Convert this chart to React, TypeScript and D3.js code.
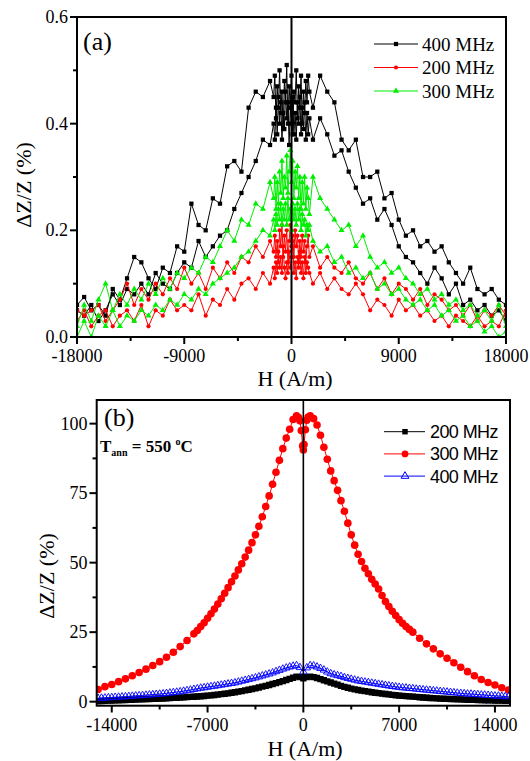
import React from 'react';
import * as d3 from 'd3';

// ---------- Panel (a) data ----------
const hTop = [
  -18000, -17400, -16800, -16200, -15600, -15000, -14400, -13800, -13200, -12600, -12000, -11400, -10800, -10200,
  -9600, -9000, -8400, -7800, -7200, -6600, -6000, -5400, -4800, -4200, -3600, -3000, -2400, -1800,
  -1500, -1400, -1300, -1200, -1100, -1000, -900, -800, -700, -600, -500, -400, -300, -200, -100, 0,
  100, 200, 300, 400, 500, 600, 700, 800, 900, 1000, 1100, 1200, 1300, 1400, 1500,
  1800, 2400, 3000, 3600, 4200, 4800, 5400, 6000, 6600, 7200, 7800, 8400, 9000, 9600, 10200, 10800, 11400, 12000,
  12600, 13200, 13800, 14400, 15000, 15600, 16200, 16800, 17400, 18000,
];

const mhz400SweepA = [
  0.06, 0.075, 0.05, 0.06, 0.04, 0.09, 0.07, 0.11, 0.15, 0.14, 0.11, 0.09, 0.13, 0.12,
  0.17, 0.16, 0.25, 0.21, 0.2, 0.26, 0.25, 0.32, 0.33, 0.31, 0.43, 0.46, 0.45, 0.48,
  0.45, 0.49, 0.41, 0.47, 0.43, 0.5, 0.42, 0.46, 0.39, 0.48, 0.44, 0.51, 0.4, 0.47, 0.43, 0.49,
  0.38, 0.46, 0.44, 0.5, 0.41, 0.47, 0.43, 0.49, 0.4, 0.46, 0.42, 0.48, 0.44, 0.49, 0.46,
  0.43, 0.49, 0.46, 0.44, 0.37, 0.35, 0.37, 0.3, 0.3, 0.31, 0.26, 0.27, 0.22, 0.19, 0.2, 0.17, 0.18, 0.16,
  0.17, 0.14, 0.12, 0.1, 0.13, 0.09, 0.08, 0.09, 0.07, 0.06,
];
const mhz400SweepB = [
  0.05, 0.04, 0.06, 0.03, 0.05, 0.08, 0.06, 0.09, 0.08, 0.1, 0.08, 0.12, 0.1, 0.09,
  0.12, 0.14, 0.13, 0.18, 0.15, 0.17, 0.19, 0.2, 0.24, 0.27, 0.3, 0.33, 0.37, 0.36,
  0.4, 0.37, 0.43, 0.38, 0.45, 0.4, 0.44, 0.37, 0.42, 0.39, 0.46, 0.41, 0.44, 0.36, 0.43, 0.4,
  0.45, 0.38, 0.42, 0.37, 0.44, 0.4, 0.45, 0.38, 0.43, 0.39, 0.44, 0.37, 0.42, 0.38, 0.41,
  0.37, 0.41, 0.38, 0.34, 0.35, 0.31, 0.28, 0.25, 0.26, 0.22, 0.24, 0.21, 0.17, 0.15, 0.14, 0.12, 0.1, 0.13,
  0.11, 0.08, 0.1, 0.06, 0.07, 0.05, 0.06, 0.04, 0.05, 0.03,
];
const mhz200SweepA = [
  0.05, 0.04, 0.05, 0.06, 0.03, 0.05, 0.07, 0.1, 0.06, 0.09, 0.07, 0.1, 0.08, 0.11,
  0.09, 0.13, 0.1, 0.12, 0.09, 0.13, 0.11, 0.14, 0.12, 0.15, 0.14, 0.17, 0.15, 0.18,
  0.16, 0.19, 0.15, 0.18, 0.14, 0.2, 0.17, 0.21, 0.15, 0.19, 0.16, 0.2, 0.14, 0.18, 0.21, 0.17,
  0.19, 0.15, 0.2, 0.17, 0.19, 0.14, 0.18, 0.15, 0.19, 0.16, 0.18, 0.14, 0.17, 0.19, 0.15,
  0.17, 0.13, 0.15, 0.13, 0.12, 0.14, 0.11, 0.1, 0.12, 0.09, 0.11, 0.08, 0.1, 0.09, 0.07, 0.09, 0.06, 0.08,
  0.07, 0.05, 0.06, 0.04, 0.06, 0.03, 0.05, 0.04, 0.06, 0.04,
];
const mhz200SweepB = [
  0.03, 0.05, 0.02, 0.04, 0.05, 0.02, 0.04, 0.05, 0.03, 0.06, 0.02, 0.05, 0.04, 0.07,
  0.05, 0.06, 0.05, 0.08, 0.04, 0.07, 0.06, 0.09, 0.07, 0.1, 0.11, 0.09, 0.12, 0.1,
  0.13, 0.11, 0.14, 0.12, 0.16, 0.13, 0.15, 0.12, 0.17, 0.13, 0.11, 0.14, 0.12, 0.16, 0.13, 0.15,
  0.18, 0.12, 0.14, 0.11, 0.15, 0.13, 0.16, 0.12, 0.14, 0.11, 0.15, 0.12, 0.14, 0.13, 0.12,
  0.1, 0.12, 0.09, 0.11, 0.09, 0.08, 0.1, 0.08, 0.05, 0.07, 0.06, 0.04, 0.07, 0.05, 0.06, 0.04, 0.05, 0.03,
  0.04, 0.02, 0.04, 0.03, 0.02, 0.04, 0.02, 0.03, 0.02, 0.05,
];
const mhz300SweepA = [
  0.02, 0.06, 0.03, 0.07, 0.1, 0.05, 0.08, 0.06, 0.09, 0.07, 0.1, 0.08, 0.11, 0.09,
  0.12, 0.11, 0.13, 0.12, 0.15, 0.14, 0.17, 0.2, 0.18, 0.22, 0.21, 0.25, 0.24, 0.29,
  0.26, 0.3, 0.24, 0.29, 0.25, 0.31, 0.27, 0.33, 0.26, 0.3, 0.28, 0.34, 0.27, 0.31, 0.35, 0.29,
  0.33, 0.26, 0.31, 0.28, 0.32, 0.26, 0.3, 0.24, 0.29, 0.25, 0.3, 0.24, 0.28, 0.26, 0.23,
  0.3, 0.26, 0.24, 0.22, 0.2, 0.21, 0.17, 0.19, 0.15, 0.13, 0.14, 0.12, 0.13, 0.11, 0.1, 0.08, 0.09, 0.07,
  0.08, 0.06, 0.07, 0.05, 0.06, 0.04, 0.05, 0.03, 0.06, 0.02,
];
const mhz300SweepB = [
  0.0, 0.03, 0.0, 0.04, 0.02, 0.05, 0.02, 0.04, 0.03, 0.05, 0.04, 0.06, 0.05, 0.07,
  0.06, 0.08, 0.07, 0.09, 0.08, 0.1, 0.11, 0.12, 0.13, 0.15, 0.16, 0.18, 0.2, 0.19,
  0.22, 0.2, 0.23, 0.21, 0.24, 0.22, 0.25, 0.21, 0.24, 0.22, 0.25, 0.21, 0.26, 0.22, 0.24, 0.2,
  0.25, 0.22, 0.24, 0.21, 0.25, 0.22, 0.24, 0.2, 0.23, 0.21, 0.22, 0.19, 0.21, 0.2, 0.21,
  0.18, 0.16, 0.17, 0.14, 0.15, 0.12, 0.13, 0.11, 0.12, 0.09, 0.1, 0.08, 0.09, 0.07, 0.06, 0.07, 0.05, 0.06,
  0.04, 0.05, 0.03, 0.04, 0.02, 0.03, 0.01, 0.02, 0.0, 0.01,
];

const topXTicks = [-18000, -9000, 0, 9000, 18000];
const topXMinor = [-13500, -4500, 4500, 13500];
const topYTicks = [0, 0.2, 0.4, 0.6];
const topYMinor = [0.1, 0.3, 0.5];
const topLegend = ['400 MHz', '200 MHz', '300 MHz'];

// ---------- Panel (b) data ----------
const mhz300Bottom: [number, number][] = [
  [-15000, 4.4], [-14500, 5.4], [-14000, 6.2], [-13500, 7.2], [-13000, 8.2], [-12500, 9.3], [-12000, 10.5],
  [-11500, 11.7], [-11000, 13.0], [-10500, 14.4], [-10000, 16.0], [-9500, 17.8], [-9000, 19.8], [-8500, 22.0],
  [-8000, 24.4], [-7750, 25.6], [-7500, 27.0], [-7250, 28.4], [-7000, 30.0], [-6750, 31.6], [-6500, 33.3],
  [-6250, 35.1], [-6000, 37.0], [-5750, 39.0], [-5500, 41.0], [-5250, 43.1], [-5000, 45.2], [-4750, 47.4],
  [-4500, 49.6], [-4250, 52.0], [-4000, 54.5], [-3750, 57.2], [-3500, 60.0], [-3250, 63.1], [-3000, 66.5],
  [-2750, 70.2], [-2500, 74.0], [-2250, 78.2], [-2000, 82.5], [-1750, 86.8], [-1500, 91.0], [-1250, 94.8],
  [-1000, 98.0], [-750, 101.5], [-500, 102.8], [-350, 102.2], [-250, 101.0], [-150, 97.5], [-50, 92.0],
  [0, 90.5], [50, 92.5], [150, 97.8], [250, 101.2], [350, 102.4], [500, 102.8], [750, 101.8], [1000, 99.5],
  [1250, 95.8], [1500, 91.5], [1750, 87.2], [2000, 83.0], [2250, 79.5], [2500, 76.0], [2750, 72.3],
  [3000, 68.5], [3250, 64.2], [3500, 60.0], [3750, 56.3], [4000, 53.0], [4250, 50.4], [4500, 48.0],
  [4750, 46.0], [5000, 44.0], [5250, 42.3], [5500, 40.5], [5750, 38.2], [6000, 36.0], [6250, 34.2],
  [6500, 32.5], [6750, 31.0], [7000, 29.5], [7250, 28.2], [7500, 27.0], [7750, 26.0], [8000, 25.0],
  [8500, 22.8], [9000, 20.8], [9500, 19.0], [10000, 17.2], [10500, 15.6], [11000, 14.0], [11500, 12.4],
  [12000, 10.8], [12500, 9.3], [13000, 8.0], [13500, 6.9], [14000, 6.0], [14500, 5.0], [15000, 4.2],
];

const mhz200Bottom: [number, number][] = [
  [-15000, 0.2], [-14750, 0.25], [-14500, 0.3], [-14250, 0.35], [-14000, 0.4], [-13750, 0.45], [-13500, 0.5],
  [-13250, 0.55], [-13000, 0.6], [-12750, 0.65], [-12500, 0.7], [-12250, 0.75], [-12000, 0.8], [-11750, 0.85],
  [-11500, 0.9], [-11250, 0.95], [-11000, 1.0], [-10750, 1.05], [-10500, 1.1], [-10250, 1.15], [-10000, 1.2],
  [-9750, 1.27], [-9500, 1.34], [-9250, 1.41], [-9000, 1.48], [-8750, 1.55], [-8500, 1.62], [-8250, 1.7],
  [-8000, 1.78], [-7750, 1.86], [-7500, 1.95], [-7250, 2.05], [-7000, 2.15], [-6750, 2.25], [-6500, 2.4],
  [-6250, 2.55], [-6000, 2.7], [-5750, 2.85], [-5500, 3.0], [-5250, 3.2], [-5000, 3.4], [-4750, 3.6],
  [-4500, 3.8], [-4250, 4.05], [-4000, 4.3], [-3750, 4.55], [-3500, 4.8], [-3250, 5.1], [-3000, 5.4],
  [-2750, 5.7], [-2500, 6.0], [-2250, 6.35], [-2000, 6.7], [-1750, 7.05], [-1500, 7.4], [-1250, 7.8],
  [-1000, 8.2], [-750, 8.6], [-500, 9.0], [-250, 8.8], [0, 8.4], [250, 8.8], [500, 9.0], [750, 8.8],
  [1000, 8.5], [1250, 8.1], [1500, 7.7], [1750, 7.3], [2000, 6.9], [2250, 6.5], [2500, 6.1], [2750, 5.7],
  [3000, 5.35], [3250, 5.0], [3500, 4.7], [3750, 4.45], [4000, 4.2], [4250, 4.0], [4500, 3.8], [4750, 3.6],
  [5000, 3.4], [5250, 3.2], [5500, 3.05], [5750, 2.9], [6000, 2.75], [6250, 2.6], [6500, 2.45], [6750, 2.3],
  [7000, 2.2], [7250, 2.1], [7500, 2.0], [7750, 1.9], [8000, 1.8], [8250, 1.7], [8500, 1.6], [8750, 1.5],
  [9000, 1.4], [9250, 1.33], [9500, 1.26], [9750, 1.19], [10000, 1.12], [10250, 1.05], [10500, 1.0],
  [10750, 0.95], [11000, 0.9], [11250, 0.85], [11500, 0.8], [11750, 0.75], [12000, 0.7], [12250, 0.66],
  [12500, 0.62], [12750, 0.58], [13000, 0.54], [13250, 0.5], [13500, 0.47], [13750, 0.44], [14000, 0.41],
  [14250, 0.38], [14500, 0.35], [14750, 0.32], [15000, 0.3],
];

const mhz400Bottom: [number, number][] = [
  [-15000, 1.2], [-14750, 1.3], [-14500, 1.35], [-14250, 1.45], [-14000, 1.5], [-13750, 1.6], [-13500, 1.65],
  [-13250, 1.75], [-13000, 1.8], [-12750, 1.9], [-12500, 2.0], [-12250, 2.1], [-12000, 2.15], [-11750, 2.25],
  [-11500, 2.35], [-11250, 2.45], [-11000, 2.55], [-10750, 2.65], [-10500, 2.75], [-10250, 2.85], [-10000, 3.0],
  [-9750, 3.15], [-9500, 3.3], [-9250, 3.45], [-9000, 3.6], [-8750, 3.8], [-8500, 4.0], [-8250, 4.2],
  [-8000, 4.45], [-7750, 4.65], [-7500, 4.9], [-7250, 5.05], [-7000, 5.25], [-6750, 5.45], [-6500, 5.6],
  [-6250, 5.8], [-6000, 6.0], [-5750, 6.2], [-5500, 6.4], [-5250, 6.6], [-5000, 6.8], [-4750, 7.1],
  [-4500, 7.4], [-4250, 7.7], [-4000, 8.0], [-3750, 8.3], [-3500, 8.6], [-3250, 8.95], [-3000, 9.3],
  [-2750, 9.65], [-2500, 10.0], [-2250, 10.4], [-2000, 10.85], [-1750, 11.3], [-1500, 11.75], [-1250, 12.15],
  [-1000, 12.5], [-750, 12.8], [-500, 13.0], [-250, 12.3], [0, 10.8], [250, 12.2], [500, 13.0], [750, 12.9],
  [1000, 12.5], [1250, 12.0], [1500, 11.4], [1750, 10.7], [2000, 10.1], [2250, 9.7], [2500, 9.4], [2750, 9.1],
  [3000, 8.7], [3250, 8.4], [3500, 8.1], [3750, 7.8], [4000, 7.5], [4250, 7.3], [4500, 7.1], [4750, 6.9],
  [5000, 6.7], [5250, 6.5], [5500, 6.3], [5750, 6.1], [6000, 5.9], [6250, 5.7], [6500, 5.5], [6750, 5.35],
  [7000, 5.2], [7250, 5.05], [7500, 4.95], [7750, 4.8], [8000, 4.7], [8250, 4.55], [8500, 4.45], [8750, 4.3],
  [9000, 4.2], [9250, 4.1], [9500, 3.95], [9750, 3.85], [10000, 3.7], [10250, 3.6], [10500, 3.5],
  [10750, 3.35], [11000, 3.25], [11250, 3.1], [11500, 3.0], [11750, 2.9], [12000, 2.8], [12250, 2.75],
  [12500, 2.65], [12750, 2.55], [13000, 2.45], [13250, 2.4], [13500, 2.3], [13750, 2.2], [14000, 2.1],
  [14250, 2.05], [14500, 1.95], [14750, 1.85], [15000, 1.8],
];

const botXTicks = [-14000, -7000, 0, 7000, 14000];
const botXMinor = [-10500, -3500, 3500, 10500];
const botYTicks = [0, 25, 50, 75, 100];
const botYMinor = [12.5, 37.5, 62.5, 87.5];
const botLegend = ['200 MHz', '300 MHz', '400 MHz'];

const SERIF = 'Liberation Serif';
const SANS = 'Liberation Sans';

const topX = d3.scaleLinear().domain([-18000, 18000]).range([77, 506]);
const topY = d3.scaleLinear().domain([0, 0.6]).range([337, 17]);
const botX = d3.scaleLinear().domain([-15100, 15100]).range([96.7, 510]);
const botY = d3.scaleLinear().domain([-1.45, 108.5]).range([705.7, 400]);

const sq = (s: number) => d3.symbol().type(d3.symbolSquare).size(s)() as string;
const tri = (s: number) => d3.symbol().type(d3.symbolTriangle).size(s)() as string;

function Series({ pts, xs, ys, color, marker, clip }: any) {
  const line = d3.line<[number, number]>().x((d) => xs(d[0])).y((d) => ys(d[1]));
  return (
    <g clipPath={`url(#${clip})`}>
      <path d={line(pts) || ''} fill="none" stroke={color} strokeWidth={1} />
      {pts.map((d: [number, number], i: number) => (
        <g key={i} transform={`translate(${xs(d[0])},${ys(d[1])})`}>{marker}</g>
      ))}
    </g>
  );
}

const serifStyle = { fontFamily: SERIF };
const sansStyle = { fontFamily: SANS };

export default function App() {
  const zipTop = (vals: number[]) => hTop.map((h, i) => [h, vals[i]] as [number, number]);

  const mk400 = <path d={sq(18)} fill="#000" />;
  const mk200 = <circle r={2.1} fill="#ff0000" />;
  const mk300 = <path d={tri(16)} fill="#00ee00" />;

  const bmk200 = <path d={sq(40)} fill="#000" />;
  const bmk300 = <circle r={3.8} fill="#ff0000" />;
  const bmk400 = <path d={tri(24)} fill="none" stroke="#0000ff" strokeWidth={0.9} />;

  const tX = topX, tY = topY, bX = botX, bY = botY;

  return (
    <svg width={530} height={761} style={{ position: 'absolute', left: 0, top: 0, background: '#fff', fontFamily: SERIF }}>
      <defs>
        <clipPath id="clipTop"><rect x={77} y={17} width={429} height={320} /></clipPath>
        <clipPath id="clipBot"><rect x={96.7} y={400} width={413.3} height={305.7} /></clipPath>
      </defs>
      <rect width={530} height={761} fill="#fff" />

      {/* ---------------- Panel (a) ---------------- */}
      <Series pts={zipTop(mhz400SweepA)} xs={tX} ys={tY} color="#000" marker={mk400} clip="clipTop" />
      <Series pts={zipTop(mhz400SweepB)} xs={tX} ys={tY} color="#000" marker={mk400} clip="clipTop" />
      <Series pts={zipTop(mhz200SweepA)} xs={tX} ys={tY} color="#ff0000" marker={mk200} clip="clipTop" />
      <Series pts={zipTop(mhz200SweepB)} xs={tX} ys={tY} color="#ff0000" marker={mk200} clip="clipTop" />
      <Series pts={zipTop(mhz300SweepA)} xs={tX} ys={tY} color="#00ee00" marker={mk300} clip="clipTop" />
      <Series pts={zipTop(mhz300SweepB)} xs={tX} ys={tY} color="#00ee00" marker={mk300} clip="clipTop" />

      <line x1={tX(0)} x2={tX(0)} y1={17} y2={337} stroke="#000" strokeWidth={2} />
      <rect x={77} y={17} width={429} height={320} fill="none" stroke="#000" strokeWidth={2} />

      {topYTicks.map((v) => (
        <g key={'ty' + v}>
          <line x1={70} x2={77} y1={tY(v)} y2={tY(v)} stroke="#000" strokeWidth={2} />
          <text x={68} y={tY(v) + 6} textAnchor="end" style={serifStyle} fontSize={18}>{v.toFixed(1)}</text>
        </g>
      ))}
      {topYMinor.map((v) => (
        <line key={'tym' + v} x1={73} x2={77} y1={tY(v)} y2={tY(v)} stroke="#000" strokeWidth={2} />
      ))}
      {topXTicks.map((v) => (
        <g key={'tx' + v}>
          <line x1={tX(v)} x2={tX(v)} y1={337} y2={344} stroke="#000" strokeWidth={2} />
          <text x={tX(v)} y={362} textAnchor="middle" style={serifStyle} fontSize={18}>{v}</text>
        </g>
      ))}
      {topXMinor.map((v) => (
        <line key={'txm' + v} x1={tX(v)} x2={tX(v)} y1={337} y2={341} stroke="#000" strokeWidth={2} />
      ))}
      <text x={295} y={386} textAnchor="middle" style={serifStyle} fontSize={22}>H (A/m)</text>
      <text transform="translate(31,185) rotate(-90)" textAnchor="middle" style={serifStyle} fontSize={22}>ΔZ/Z (%)</text>
      <text x={83} y={50} style={serifStyle} fontSize={26}>(a)</text>

      {topLegend.map((lab, i) => {
        const y = 44 + i * 23.5;
        const col = ['#000', '#ff0000', '#00ee00'][i];
        const mk = [mk400, mk200, mk300][i];
        return (
          <g key={lab}>
            <line x1={374} x2={418} y1={y} y2={y} stroke={col} strokeWidth={1} />
            <g transform={`translate(396,${y})`}>{mk}</g>
            <text x={422} y={y + 6.5} style={serifStyle} fontSize={19}>{lab}</text>
          </g>
        );
      })}

      {/* ---------------- Panel (b) ---------------- */}
      <Series pts={mhz200Bottom} xs={bX} ys={bY} color="#000" marker={bmk200} clip="clipBot" />
      <Series pts={mhz300Bottom} xs={bX} ys={bY} color="#ff0000" marker={bmk300} clip="clipBot" />
      <Series pts={mhz400Bottom} xs={bX} ys={bY} color="#0000ff" marker={bmk400} clip="clipBot" />

      <line x1={bX(0)} x2={bX(0)} y1={400} y2={705.7} stroke="#000" strokeWidth={1.6} />
      <rect x={96.7} y={400} width={413.3} height={305.7} fill="none" stroke="#000" strokeWidth={2} />

      {botYTicks.map((v) => (
        <g key={'by' + v}>
          <line x1={89.5} x2={96.7} y1={bY(v)} y2={bY(v)} stroke="#000" strokeWidth={2} />
          <text x={87.5} y={bY(v) + 6} textAnchor="end" style={serifStyle} fontSize={18}>{v}</text>
        </g>
      ))}
      {botYMinor.map((v) => (
        <line key={'bym' + v} x1={92.5} x2={96.7} y1={bY(v)} y2={bY(v)} stroke="#000" strokeWidth={2} />
      ))}
      {botXTicks.map((v) => (
        <g key={'bx' + v}>
          <line x1={bX(v)} x2={bX(v)} y1={705.7} y2={712.5} stroke="#000" strokeWidth={2} />
          <text x={bX(v)} y={731} textAnchor="middle" style={serifStyle} fontSize={18}>{v}</text>
        </g>
      ))}
      {botXMinor.map((v) => (
        <line key={'bxm' + v} x1={bX(v)} x2={bX(v)} y1={705.7} y2={709.5} stroke="#000" strokeWidth={2} />
      ))}
      <text x={305} y={756} textAnchor="middle" style={serifStyle} fontSize={22}>H (A/m)</text>
      <text transform="translate(54,576) rotate(-90)" textAnchor="middle" style={serifStyle} fontSize={22}>ΔZ/Z (%)</text>
      <text x={104} y={425.5} style={serifStyle} fontSize={26}>(b)</text>
      <text x={100} y={451.5} style={serifStyle} fontSize={17} fontWeight="bold">
        T<tspan fontSize={10} dy={4}>ann</tspan>
        <tspan dy={-4}> = 550 </tspan>
        <tspan fontSize={10} dy={-7}>o</tspan>
        <tspan dy={7}>C</tspan>
      </text>

      {botLegend.map((lab, i) => {
        const y = 431.7 + i * 22.2;
        const col = ['#000', '#ff0000', '#0000ff'][i];
        const mk = [
          <path d={sq(30)} fill="#000" />,
          <circle r={3.4} fill="#ff0000" />,
          <path d={tri(26)} fill="none" stroke="#0000ff" strokeWidth={1} />,
        ][i];
        return (
          <g key={lab}>
            <line x1={384} x2={425} y1={y} y2={y} stroke={col} strokeWidth={1} />
            <g transform={`translate(405,${y})`}>{mk}</g>
            <text x={430} y={y + 6.5} style={sansStyle} fontSize={18} letterSpacing={-0.6}>{lab}</text>
          </g>
        );
      })}
    </svg>
  );
}
